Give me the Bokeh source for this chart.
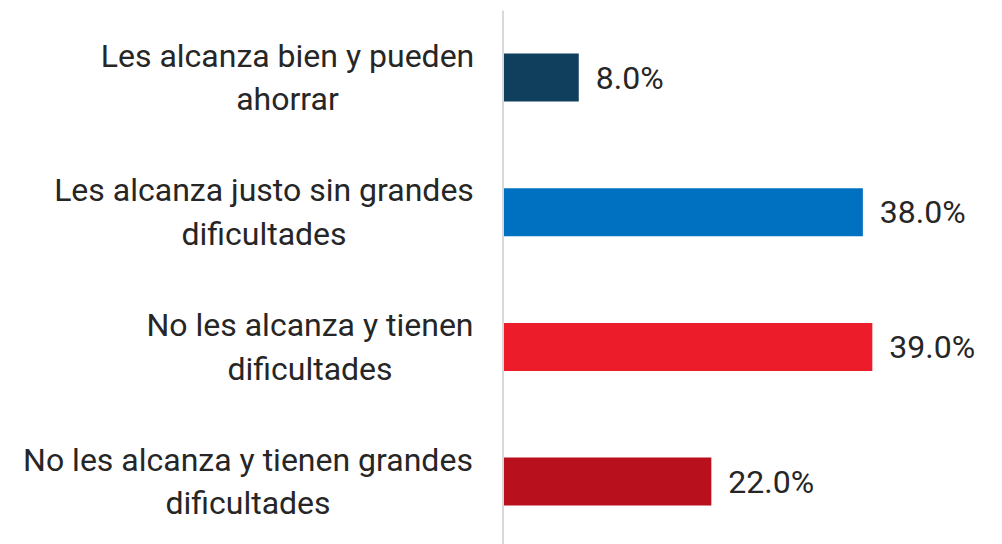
from bokeh.plotting import figure
from bokeh.models import ColumnDataSource, Range1d
from bokeh.core.properties import value
from bokeh.embed import file_html
from bokeh.resources import INLINE

categories = [
    "Les alcanza bien y pueden\nahorrar",
    "Les alcanza justo sin grandes\ndificultades",
    "No les alcanza y tienen\ndificultades",
    "No les alcanza y tienen grandes\ndificultades",
]
values = [8.0, 38.0, 39.0, 22.0]
colors = ["#0f3f5c", "#0070c0", "#ed1c2a", "#b8101c"]
# horizontal centre of each category label, in page pixels (layout)
label_center_px = [287, 263.5, 309.5, 247.5]

W, H = 1002, 544
px_per_pct = 9.47
zero_px = 502.5
x_start = -zero_px / px_per_pct
x_end = (W - zero_px) / px_per_pct

row_px = 134.7
first_px = 77.0
y_top = -first_px / row_px
y_bottom = (H - first_px) / row_px
axis_top = y_top + 10 / row_px

rank = list(range(len(categories)))
src = ColumnDataSource(dict(
    y=rank, v=values, c=colors,
    lab=[f"{v:.1f}%" for v in values],
    cat=categories,
    lx=[(c - zero_px) / px_per_pct for c in label_center_px],
))

p = figure(width=W, height=H, output_backend="svg", toolbar_location=None,
           x_range=Range1d(x_start, x_end), y_range=Range1d(y_bottom, y_top),
           min_border=0, outline_line_color=None)
p.xaxis.visible = False
p.yaxis.visible = False
p.grid.visible = False
p.background_fill_color = "white"
p.border_fill_color = "white"

p.hbar(y="y", left=0, right="v", height=48 / row_px, fill_color="c",
       line_color=None, source=src)
p.segment(x0=[0], y0=[axis_top], x1=[0], y1=[y_bottom], line_color="#d9d9d9", line_width=2)

p.text(x="v", y="y", text="lab", source=src, x_offset=17,
       text_font=value("Roboto"), text_font_size="32px", text_color="#262626",
       text_baseline="middle", text_align="left")
p.text(x="lx", y="y", text="cat", source=src,
       text_font=value("Roboto"), text_font_size="32px", text_color="#262626",
       text_baseline="middle", text_align="center", text_line_height=1.15)

open("out.html", "w").write(file_html(p, INLINE))
